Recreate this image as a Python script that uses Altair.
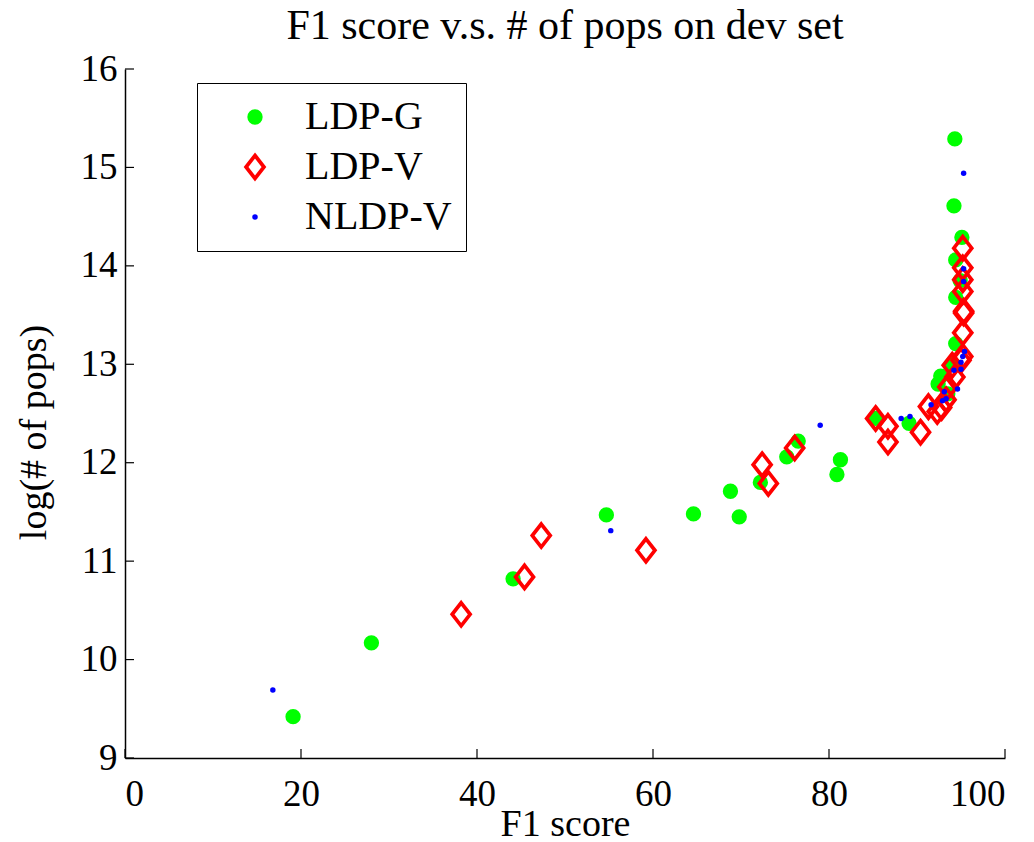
import altair as alt
import pandas as pd

# ---- data ----
ldpg_x = [19.1, 28.0, 44.1, 54.7, 64.6, 68.8, 69.8, 72.2, 75.2, 76.5, 80.9, 81.3,
          85.3, 89.1, 92.4, 92.7, 93.5, 94.0, 94.4, 94.4, 94.4, 94.9, 95.1, 94.2, 94.3]
ldpg_y = [9.42, 10.17, 10.82, 11.47, 11.48, 11.71, 11.45, 11.80, 12.06, 12.22, 11.88, 12.03,
          12.45, 12.40, 12.80, 12.88, 12.70, 13.00, 13.21, 13.68, 14.06, 13.85, 14.29, 14.61, 15.29]

ldpv_x = [38.2, 45.4, 47.3, 59.2, 72.4, 73.1, 76.1, 85.3, 86.7, 86.7, 90.4, 91.3,
          92.3, 92.8, 93.3, 93.5, 94.3, 94.0, 95.0, 95.2, 95.3, 95.3, 95.2, 95.2, 95.2,
          95.2, 95.2]
ldpv_y = [10.46, 10.84, 11.26, 11.11, 11.98, 11.79, 12.15, 12.45, 12.37, 12.21, 12.31, 12.57,
          12.52, 12.56, 12.64, 12.77, 12.87, 12.99, 13.04, 13.32, 13.52, 13.54, 13.74, 13.86, 13.98,
          14.18, 13.08]

nldpv_x = [16.8, 55.2, 79.0, 88.2, 89.2, 91.6, 92.9, 93.3, 93.1, 94.6, 94.2, 95.0,
           95.0, 95.2, 95.4, 95.3, 95.3, 95.3]
nldpv_y = [9.69, 11.31, 12.38, 12.45, 12.47, 12.59, 12.63, 12.65, 12.72, 12.75, 12.94, 12.95,
           13.02, 13.08, 13.13, 13.84, 13.97, 14.94]

series_names = ["LDP-G", "LDP-V", "NLDP-V"]
x_ticks = [0, 20, 40, 60, 80, 100]
y_ticks = [9, 10, 11, 12, 13, 14, 15, 16]

rows = []
for name, xs, ys in zip(series_names, [ldpg_x, ldpv_x, nldpv_x], [ldpg_y, ldpv_y, nldpv_y]):
    for a, b in zip(xs, ys):
        rows.append({"f1": a, "pops": b, "series": name})
df = pd.DataFrame(rows)

FONT = "Liberation Serif"
W, H = 880, 689
diamond = "M0,-1L0.78,0L0,1L-0.78,0Z"

xscale = alt.Scale(domain=[0, 100], nice=False, zero=False)
yscale = alt.Scale(domain=[9, 16], nice=False, zero=False)

points = alt.Chart(df).mark_point(filled=False, opacity=1).encode(
    x=alt.X("f1:Q", scale=xscale,
            axis=alt.Axis(values=x_ticks, format="d", title="F1 score", ticks=False, grid=False,
                          labelPadding=18, titleY=77, titleBaseline="alphabetic")),
    y=alt.Y("pops:Q", scale=yscale,
            axis=alt.Axis(values=y_ticks, format="d", title="log(# of pops)", ticks=False,
                          grid=False, labelPadding=8, titleX=-72, titleY=363)),
    shape=alt.Shape("series:N", scale=alt.Scale(type="ordinal", domain=series_names,
                                                range=["circle", diamond, "circle"]),
                    title=None),
    size=alt.Size("series:N", scale=alt.Scale(type="ordinal", domain=series_names,
                                              range=[235, 530, 30]),
                  title=None),
    fill=alt.Fill("series:N", scale=alt.Scale(type="ordinal", domain=series_names,
                                              range=["#00ff00", "transparent", "#0000ff"]),
                  title=None),
    stroke=alt.Stroke("series:N", scale=alt.Scale(type="ordinal", domain=series_names,
                                                  range=["#00ff00", "#ff0000", "#0000ff"]),
                      title=None,
                      legend=alt.Legend(orient="none", legendX=72, legendY=14,
                                        strokeColor="black", fillColor="white",
                                        padding=14, symbolOffset=24, labelOffset=30,
                                        rowPadding=10, labelFont=FONT, labelFontSize=40,
                                        labelColor="black")),
    strokeWidth=alt.StrokeWidth("series:N", scale=alt.Scale(type="ordinal", domain=series_names,
                                                            range=[0, 3.7, 0]),
                                title=None),
)

xt = pd.DataFrame({"v": x_ticks})
yt = pd.DataFrame({"v": y_ticks})
xtick_rules = alt.Chart(xt).mark_rule(color="black", strokeWidth=1.2).encode(
    x=alt.X("v:Q", scale=xscale), y=alt.value(H), y2=alt.value(H - 9))
ytick_rules = alt.Chart(yt).mark_rule(color="black", strokeWidth=1.2).encode(
    y=alt.Y("v:Q", scale=yscale), x=alt.value(0), x2=alt.value(9))

chart = alt.layer(points, xtick_rules, ytick_rules).properties(
    width=W, height=H,
    title=alt.Title("F1 score v.s. # of pops on dev set", font=FONT, fontSize=42,
                    fontWeight="normal", color="black", offset=2),
    autosize=alt.AutoSizeParams(type="none"),
    padding={"left": 125, "top": 69, "right": 29, "bottom": 84},
).configure(background="white").configure_view(stroke=None).configure_axis(
    labelFont=FONT, titleFont=FONT, labelFontSize=37, titleFontSize=38,
    titleFontWeight="normal", labelColor="black", titleColor="black",
    domainColor="black", domainWidth=1.5,
)

chart.save("out.html", embed_options={"renderer": "svg", "actions": False})
